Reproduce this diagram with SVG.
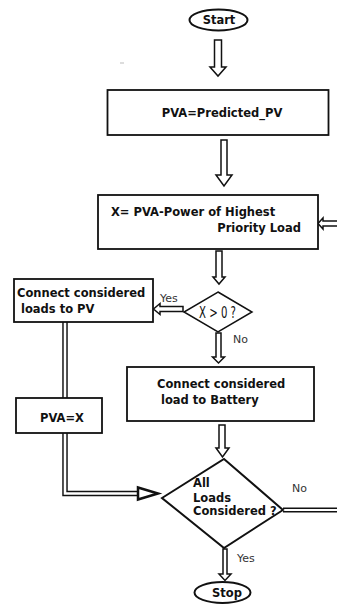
<svg xmlns="http://www.w3.org/2000/svg" width="337" height="604" viewBox="0 0 337 604">
<style>
.box{fill:#fff;stroke:#111;stroke-width:1.8}
.dia{fill:#fff;stroke:#111;stroke-width:1.5}
.t{font-family:"DejaVu Sans","Liberation Sans",sans-serif;font-weight:bold;font-size:11.5px;fill:#111}
.lbl{font-family:"DejaVu Sans","Liberation Sans",sans-serif;font-size:11px;fill:#333}
.arr{fill:#fff;stroke:#111;stroke-width:1.5;stroke-linejoin:miter}
.dblo{fill:none;stroke:#111;stroke-width:5.5}
.dbli{fill:none;stroke:#fff;stroke-width:2.6}
</style>
<rect width="337" height="604" fill="#fff"/>
<g id="connectors">
<path class="arr" d="M214.5,40 H221.5 V67 H226 L218,76 L210,67 H214.5 Z"/>
<path class="arr" d="M221,140 H227 V175 H232 L224,186 L216,175 H221 Z"/>
<path class="arr" d="M337,221 H323 V218 L318,223.5 L323,229 V226 H337"/>
<path class="arr" d="M216,251 H222 V277 H225 L219,284 L213,277 H216 Z"/>
<path class="arr" d="M183,306.5 V311.5 H160 V314.5 L153.5,309 L160,303.5 V306.5 Z"/>
<path class="arr" d="M216,333 H221 V357 H224.5 L218.5,363 L212.5,357 H216 Z"/>
<path class="arr" d="M219,425 H225 V448 H229 L222.5,457 L216,448 H219 Z"/>
<path class="arr" d="M223,549 H227 V574 H231 L225,580.5 L219,574 H223 Z"/>
<path class="dblo" d="M65,322 V398"/>
<path class="dbli" d="M65,322 V398"/>
<path class="dblo" d="M65,433 V493.5 H140"/>
<path class="dbli" d="M65,433 V493.5 H140"/>
<path d="M138,487.5 L158,493.5 L138,499.5 Z" fill="#fff" stroke="#111" stroke-width="2.5" stroke-linejoin="miter"/>
<path d="M283,510 H337" fill="none" stroke="#111" stroke-width="5"/>
<path d="M283,510 H337" fill="none" stroke="#fff" stroke-width="2"/>
<text class="lbl" x="160" y="302">Yes</text>
<text class="lbl" x="233" y="343">No</text>
<text class="lbl" x="292" y="492">No</text>
<text class="lbl" x="237" y="562">Yes</text>
<line x1="120" y1="63" x2="124" y2="63" stroke="#bbb" stroke-width="1"/>
</g>
<g id="start">
<ellipse cx="218.5" cy="20" rx="29" ry="10.5" fill="#fff" stroke="#111" stroke-width="2"/>
<text class="t" x="219" y="24" text-anchor="middle" font-size="12">Start</text>
</g>
<g id="pva-predicted">
<rect class="box" x="107.5" y="90" width="221" height="45"/>
<text class="t" x="222" y="117" text-anchor="middle">PVA=Predicted_PV</text>
</g>
<g id="x-calc">
<rect class="box" x="98" y="195" width="220" height="54"/>
<text class="t" x="111" y="216">X= PVA-Power of Highest</text>
<text class="t" x="301" y="232" text-anchor="end">Priority Load</text>
</g>
<g id="decision-x">
<path class="dia" d="M218,292 L252,312 L218,332 L184,312 Z"/>
<text x="199" y="317.5" font-family="DejaVu Sans, sans-serif" font-size="15" fill="#111" textLength="37" lengthAdjust="spacingAndGlyphs">X &gt; 0 ?</text>
</g>
<g id="connect-pv">
<rect class="box" x="14" y="279" width="139" height="43"/>
<text class="t" x="17" y="297">Connect considered</text>
<text class="t" x="21" y="313">loads to PV</text>
</g>
<g id="pva-x">
<rect class="box" x="16" y="398" width="86" height="35"/>
<text class="t" x="62" y="422" text-anchor="middle">PVA=X</text>
</g>
<g id="connect-battery">
<rect class="box" x="127" y="367" width="187" height="54"/>
<text class="t" x="157" y="388">Connect considered</text>
<text class="t" x="161" y="404">load to Battery</text>
</g>
<g id="decision-all">
<path d="M224,459 L283,510 L224,548 L162,498 Z" fill="#fff" stroke="#111" stroke-width="2"/>
<text class="t" x="193" y="487">All</text>
<text class="t" x="193" y="502">Loads</text>
<text class="t" x="193" y="515">Considered ?</text>
</g>
<g id="stop">
<ellipse cx="222.5" cy="592.5" rx="28" ry="10.5" fill="#fff" stroke="#111" stroke-width="2"/>
<text class="t" x="227" y="597" text-anchor="middle" font-size="12">Stop</text>
</g>
</svg>
